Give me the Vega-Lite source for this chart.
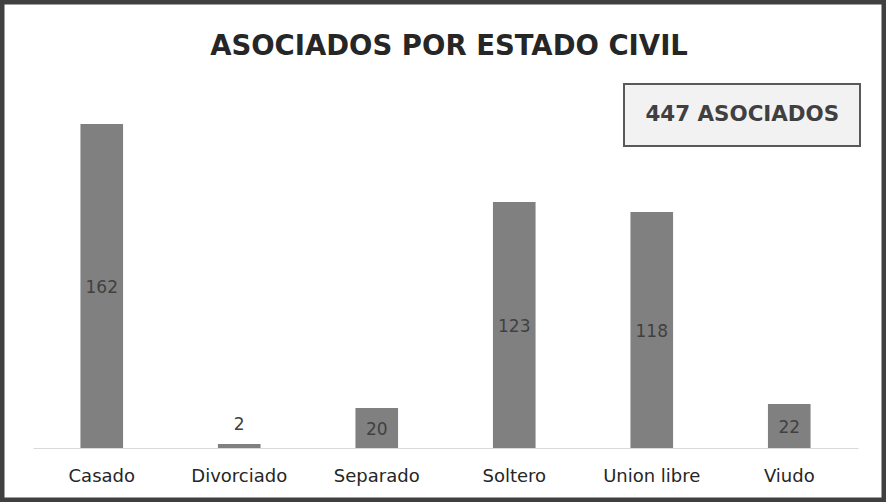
{
  "$schema": "https://vega.github.io/schema/vega-lite/v6.json",
  "width": 886,
  "height": 502,
  "autosize": "none",
  "padding": 0,
  "background": "#ffffff",
  "title": {
    "text": "ASOCIADOS POR ESTADO CIVIL",
    "orient": "top",
    "anchor": "middle",
    "frame": "group",
    "offset": -60,
    "dx": 6,
    "font": "DejaVu Sans",
    "fontSize": 27.5,
    "fontWeight": "bold",
    "color": "#262626"
  },
  "config": {
    "view": {"stroke": "#404040", "strokeWidth": 9, "fill": "#ffffff"},
    "legend": {
      "orient": "none",
      "legendX": 624,
      "legendY": 84,
      "fillColor": "#f2f2f2",
      "strokeColor": "#595959",
      "strokeWidth": 2,
      "padding": 20,
      "symbolSize": 0,
      "symbolStrokeWidth": 0,
      "symbolOpacity": 0,
      "labelOffset": -20,
      "labelFont": "DejaVu Sans",
      "labelFontSize": 21.4,
      "labelFontWeight": "bold",
      "labelColor": "#404040",
      "labelLimit": 500,
      "title": null
    }
  },
  "data": {
    "values": [
      {"estado": "Casado", "value": 162},
      {"estado": "Divorciado", "value": 2},
      {"estado": "Separado", "value": 20},
      {"estado": "Soltero", "value": 123},
      {"estado": "Union libre", "value": 118},
      {"estado": "Viudo", "value": 22}
    ]
  },
  "encoding": {
    "x": {
      "field": "estado",
      "type": "nominal",
      "sort": null,
      "scale": {"range": [33, 858], "paddingInner": 0.69, "paddingOuter": 0.345},
      "axis": {
        "title": null,
        "orient": "bottom",
        "offset": -54,
        "labelAngle": 0,
        "ticks": false,
        "domainColor": "#d9d9d9",
        "domainWidth": 1,
        "labelPadding": 19,
        "labelFont": "DejaVu Sans",
        "labelFontSize": 18,
        "labelColor": "#262626",
        "grid": false
      }
    }
  },
  "layer": [
    {
      "mark": {"type": "bar"},
      "encoding": {
        "y": {
          "field": "value",
          "type": "quantitative",
          "scale": {"domain": [0, 180], "range": [448, 88], "nice": false},
          "axis": null
        },
        "color": {
          "datum": "447 ASOCIADOS",
          "type": "nominal",
          "scale": {"range": ["#808080"]},
          "legend": {"title": null}
        }
      }
    },
    {
      "transform": [{"filter": "datum.value >= 10"}],
      "mark": {"type": "text", "font": "DejaVu Sans", "fontSize": 17, "color": "#404040", "baseline": "middle", "dy": 2},
      "encoding": {
        "y": {
          "field": "value",
          "type": "quantitative",
          "scale": {"domain": [0, 360], "range": [448, 88], "nice": false},
          "axis": null
        },
        "text": {"field": "value", "type": "quantitative"}
      }
    },
    {
      "transform": [{"filter": "datum.value < 10"}],
      "mark": {"type": "text", "font": "DejaVu Sans", "fontSize": 17, "color": "#404040", "baseline": "middle", "dy": -19},
      "encoding": {
        "y": {
          "field": "value",
          "type": "quantitative",
          "scale": {"domain": [0, 180], "range": [448, 88], "nice": false},
          "axis": null
        },
        "text": {"field": "value", "type": "quantitative"}
      }
    }
  ],
  "resolve": {"scale": {"y": "independent"}}
}
